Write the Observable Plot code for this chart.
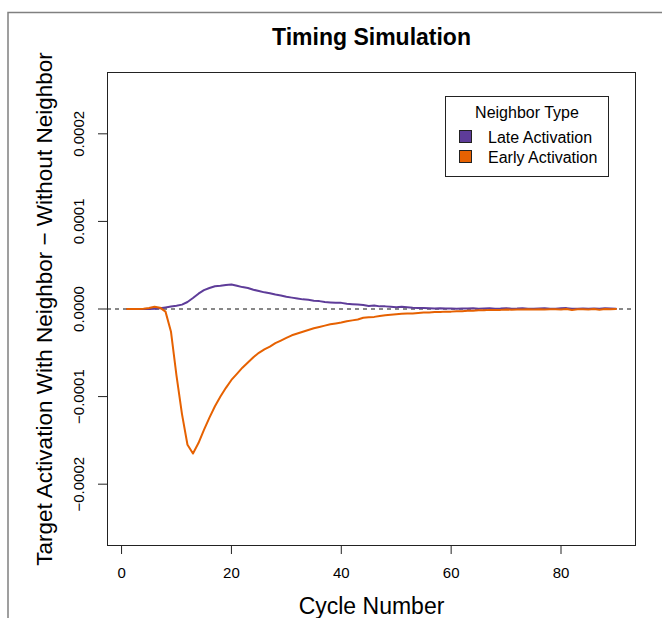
<!DOCTYPE html>
<html>
<head>
<meta charset="utf-8">
<script src="https://cdn.jsdelivr.net/npm/d3@7"></script>
<script src="https://cdn.jsdelivr.net/npm/@observablehq/plot@0.6"></script>
<style>
  html, body { margin: 0; padding: 0; background: #fff; }
</style>
</head>
<body>
<div id="chart"></div>
<script>
// ---- data (values in units of 1e-6) ----
const cycles = d3.range(1, 91);
const lateActivation = [
  0, 0, 0, 0, 0, 0.3, 0.8, 1.8, 2.8, 3.8,
  5, 8, 12.5, 17.5, 21.5, 24, 26, 26.5, 27.5, 28,
  26.5, 25, 24, 22, 20.5, 19, 18, 16.5, 15.5, 14,
  13, 12, 11, 10.5, 9.5, 9, 8, 7.5, 7, 7,
  6, 5.5, 5, 4.5, 3.5, 4, 3, 3, 2.5, 2,
  2.5, 2, 1.5, 1.2, 1, 0.8, 0.5, 0.8, 0.5, 0.6,
  0.4, 0.7, 0.5, 0.8, 0.3, 0.6, 0.8, 0.2, 0.5, 1.0,
  0.3, 0.5, 0.9, 0.4, 0.3, 0.6, 0.9, 0.2, 0.4, 0.8,
  1.0, 0.3, 0.2, 0.5, 0.4, 0.6, 0.3, 0.9, 0.5, 0.2
];
const earlyActivation = [
  0, 0, 0, 0.3, 1.2, 2.6, 1.5, -3, -26, -76,
  -120, -155, -165, -153, -138, -124, -111, -100, -90, -81,
  -74, -67, -61, -55, -50, -46, -43, -39, -36, -33,
  -30, -28, -26, -24, -22, -20.5, -19, -17.5, -16.5, -15.5,
  -14, -13, -12, -10, -9.5, -9, -8, -7.2, -6.5, -6,
  -5.5, -5, -5, -4.5, -4, -4, -3.5, -3.5, -3, -3,
  -2.5, -2.5, -2, -2, -1.5, -1.5, -1, -1, -1, -0.5,
  -0.8, -0.5, -0.6, -0.3, -0.5, -0.2, -0.6, -0.3, -0.2, -0.5,
  0, -1.2, -0.3, -0.2, -0.5, 0, -0.8, 0, -0.3, 0
];
const seriesNames = ["Late Activation", "Early Activation"];
const seriesColors = ["#5e3c99", "#e66101"];
const xTicks = [0, 20, 40, 60, 80];
const yTicks = [-0.0002, -0.0001, 0, 0.0001, 0.0002];
const yTickLabels = ["\u22120.0002", "\u22120.0001", "0.0000", "0.0001", "0.0002"];
const chartTitle = "Timing Simulation";
const xLabel = "Cycle Number";
const yLabel = "Target Activation With Neighbor \u2212 Without Neighbor";
const legendTitle = "Neighbor Type";

const data = [];
cycles.forEach((c, i) => {
  data.push({cycle: c, value: lateActivation[i] * 1e-6, series: seriesNames[0]});
  data.push({cycle: c, value: earlyActivation[i] * 1e-6, series: seriesNames[1]});
});

const FONT = "'Liberation Sans', Arial, Helvetica, sans-serif";

const chart = Plot.plot({
  width: 662,
  height: 618,
  marginTop: 72,
  marginRight: 27,
  marginBottom: 73,
  marginLeft: 107,
  style: {fontFamily: FONT, fontSize: "15px", background: "white", color: "black"},
  x: {domain: [-2.56, 93.56]},
  y: {domain: [-0.00027, 0.00027]},
  color: {domain: seriesNames, range: seriesColors},
  marks: [
    Plot.ruleY([0], {stroke: "#111", strokeWidth: 1, strokeDasharray: "4,4"}),
    Plot.line(data, {x: "cycle", y: "value", z: "series", stroke: "series", strokeWidth: 2}),
    Plot.frame({stroke: "#222", strokeWidth: 1}),
    Plot.axisX({ticks: xTicks, tickSize: 9, tickPadding: 13, fontSize: 15, tickFormat: d => d, label: null, stroke: "#222"}),
    Plot.axisY({ticks: yTicks, tickSize: 9, tickFormat: () => null, label: null, stroke: "#222"}),
    Plot.text(yTicks, {y: d => d, frameAnchor: "left", dx: -28, rotate: -90, text: (d, i) => yTickLabels[i], textAnchor: "middle", lineAnchor: "middle", fontSize: 15}),
    Plot.text([yLabel], {frameAnchor: "left", dx: -63, rotate: -90, text: d => d, textAnchor: "middle", lineAnchor: "middle", fontSize: 22.5}),
    Plot.text([xLabel], {frameAnchor: "bottom", dy: 61, text: d => d, lineAnchor: "middle", fontSize: 23}),
    Plot.text([chartTitle], {frameAnchor: "top", dy: -35, text: d => d, lineAnchor: "middle", fontSize: 23, fontWeight: "bold"})
  ]
});

// Legend and figure border
const svg = d3.select(chart);
const lg = svg.append("g").attr("font-family", FONT).attr("text-anchor", "start");
lg.append("rect").attr("x", 445.5).attr("y", 96.5).attr("width", 163).attr("height", 80)
  .attr("fill", "white").attr("stroke", "#222").attr("stroke-width", 1);
lg.append("text").attr("x", 527).attr("y", 112).attr("text-anchor", "middle")
  .attr("dy", "0.35em").attr("font-size", 16).text(legendTitle);
seriesNames.forEach((n, i) => {
  lg.append("rect").attr("x", 459.5).attr("y", 130.5 + 20 * i).attr("width", 12).attr("height", 12)
    .attr("fill", seriesColors[i]).attr("stroke", "#222").attr("stroke-width", 1);
  lg.append("text").attr("x", 488).attr("y", 137 + 20 * i).attr("dy", "0.35em")
    .attr("text-anchor", "start").attr("font-size", 16).text(n);
});
const bd = svg.append("g").attr("stroke", "#808080").attr("stroke-width", 1.5).attr("fill", "none");
bd.append("path").attr("d", "M8,618V12.5H662");

document.getElementById("chart").appendChild(chart);
</script>
</body>
</html>
